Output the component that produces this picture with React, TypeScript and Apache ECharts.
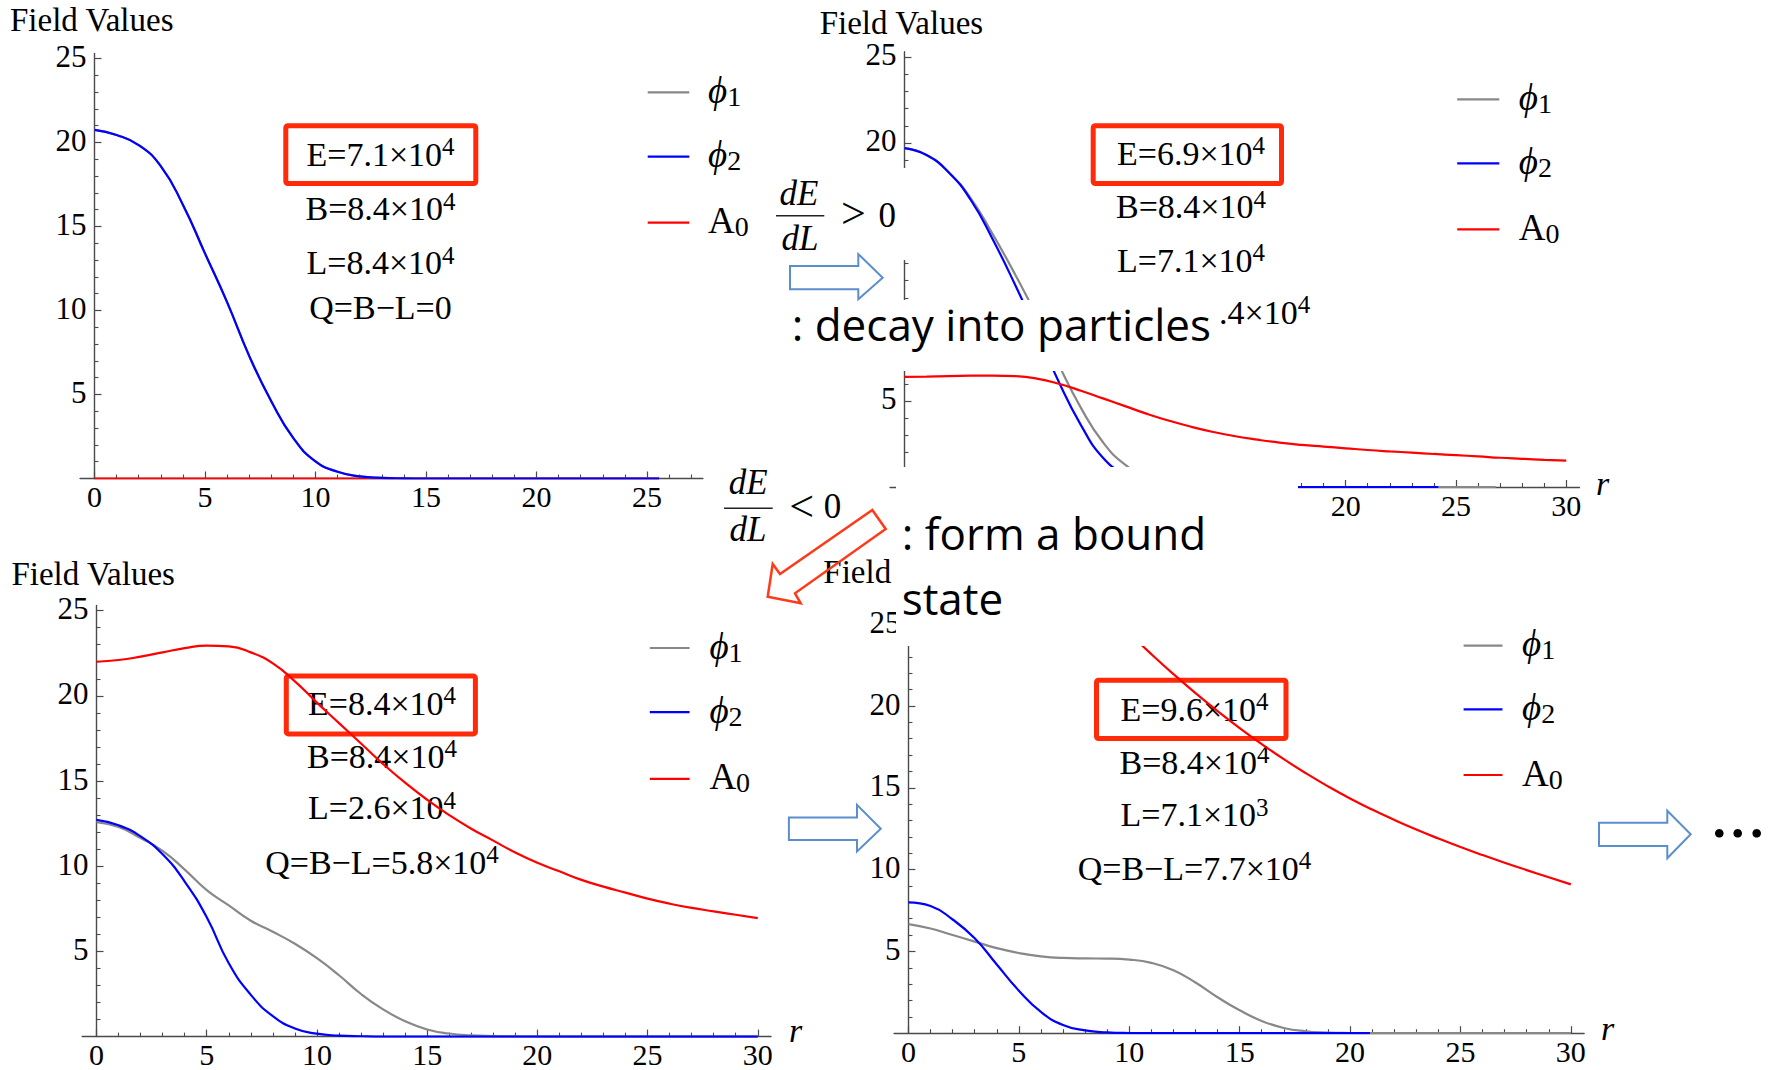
import React, { useEffect, useRef } from "react";
import * as echarts from "echarts";

// ---------------- data ----------------
const xTicks25 = [0, 5, 10, 15, 20, 25];
const xTicks30 = [0, 5, 10, 15, 20, 25, 30];
const yTicks = [5, 10, 15, 20, 25];
const p2XLabels = [20, 25, 30];
const p2YLabels = [5, 20, 25];
const xMinor27 = [1, 2, 3, 4, 6, 7, 8, 9, 11, 12, 13, 14, 16, 17, 18, 19, 21, 22, 23, 24, 26, 27];
const xMinor30 = [1, 2, 3, 4, 6, 7, 8, 9, 11, 12, 13, 14, 16, 17, 18, 19, 21, 22, 23, 24, 26, 27, 28, 29];
const yMinor = [1, 2, 3, 4, 6, 7, 8, 9, 11, 12, 13, 14, 16, 17, 18, 19, 21, 22, 23, 24];

const r0to30 = [0, 1, 2, 3, 4, 5, 6, 7, 8, 9, 10, 11, 12, 13, 14, 15, 16, 17, 18, 19, 20, 21, 22, 23, 24, 25, 26, 27, 28, 29, 30];

// panel 1 (top left)
const p1R = [0, 1, 2, 3, 4, 5, 6, 7, 8, 9, 10, 11, 12, 13, 14, 15, 16, 17, 18, 19, 20, 21, 22, 23, 24, 25, 25.55];
const p1Phi2 = [20.75, 20.45, 19.85, 18.6, 16.3, 13.4, 10.5, 7.3, 4.6, 2.4, 1.02, 0.4, 0.13, 0.04, 0.01, 0, 0, 0, 0, 0, 0, 0, 0, 0, 0, 0, 0];
const p1Phi1 = [20.75, 20.45, 19.85, 18.6, 16.3, 13.4, 10.5, 7.3, 4.6, 2.4, 1.02, 0.4, 0.13, 0.04, 0.01, 0, 0, 0, 0, 0, 0, 0, 0, 0, 0, 0, 0];
const p1A0 = [0, 0, 0, 0, 0, 0, 0, 0, 0, 0, 0, 0, 0, 0, 0, 0, 0, 0, 0, 0, 0, 0, 0, 0, 0, 0, 0];

// panel 2 (top right)
const p2Phi2R = [0, 1, 2, 3, 4, 5, 6, 7, 8, 9, 10, 11, 12, 13, 14, 15, 16, 17, 18, 19, 20, 21, 22, 23, 24, 24.2];
const p2Phi2 = [19.7, 19.3, 18.3, 16.7, 14.4, 11.8, 9.0, 6.1, 3.6, 1.7, 0.75, 0.28, 0.1, 0.03, 0.01, 0, 0, 0, 0, 0, 0, 0, 0, 0, 0, 0];
const p2Phi1R = [0, 1, 2, 3, 4, 5, 6, 7, 8, 9, 10, 11, 12, 13, 14, 15, 16, 17, 18, 19, 20, 21, 22, 23, 24, 25, 26, 26.8];
const p2Phi1 = [19.7, 19.3, 18.3, 16.8, 14.7, 12.4, 9.9, 7.1, 4.6, 2.6, 1.3, 0.6, 0.25, 0.1, 0.04, 0.01, 0, 0, 0, 0, 0, 0, 0, 0, 0, 0, 0, 0];
const p2A0 = [6.4, 6.42, 6.45, 6.47, 6.48, 6.45, 6.3, 6.0, 5.6, 5.15, 4.7, 4.25, 3.85, 3.5, 3.2, 2.95, 2.75, 2.58, 2.45, 2.35, 2.25, 2.15, 2.07, 2.0, 1.92, 1.85, 1.78, 1.7, 1.64, 1.58, 1.53];

// panel 3 (bottom left)
const p3A0 = [22.0, 22.1, 22.3, 22.55, 22.8, 22.95, 22.9, 22.55, 21.9, 20.85, 19.6, 18.4, 17.2, 16.0, 14.9, 13.9, 13.0, 12.2, 11.5, 10.8, 10.2, 9.7, 9.2, 8.8, 8.45, 8.1, 7.8, 7.55, 7.35, 7.15, 6.95];
const p3Phi2 = [12.72, 12.4, 11.75, 10.7, 9.1, 7.0, 4.3, 2.45, 1.2, 0.48, 0.17, 0.06, 0.02, 0, 0, 0, 0, 0, 0, 0, 0, 0, 0, 0, 0, 0, 0, 0, 0, 0, 0];
const p3Phi1 = [12.58, 12.3, 11.65, 10.9, 9.8, 8.6, 7.7, 6.8, 6.15, 5.45, 4.6, 3.6, 2.5, 1.6, 0.9, 0.42, 0.18, 0.07, 0.03, 0.01, 0, 0, 0, 0, 0, 0, 0, 0, 0, 0, 0];

// panel 4 (bottom right)
const p4Phi2R = [0, 1, 2, 3, 4, 5, 6, 7, 8, 9, 10, 11, 12, 13, 14, 15, 16, 17, 18, 19, 20, 20.9];
const p4Phi2 = [8.0, 7.78, 6.95, 5.8, 4.2, 2.6, 1.3, 0.5, 0.17, 0.05, 0.01, 0, 0, 0, 0, 0, 0, 0, 0, 0, 0, 0];
const p4Phi1 = [6.67, 6.4, 6.0, 5.6, 5.2, 4.9, 4.7, 4.6, 4.57, 4.56, 4.5, 4.3, 3.85, 3.1, 2.2, 1.4, 0.75, 0.32, 0.12, 0.04, 0.01, 0, 0, 0, 0, 0, 0, 0, 0, 0, 0];
const p4A0R = [10, 11, 12, 13, 14, 15, 16, 17, 18, 19, 20, 21, 22, 23, 24, 25, 26, 27, 28, 29, 30];
const p4A0 = [24.45, 23.17, 21.95, 20.79, 19.69, 18.65, 17.67, 16.75, 15.89, 15.09, 14.35, 13.67, 13.04, 12.45, 11.9, 11.38, 10.89, 10.42, 9.97, 9.53, 9.1];

// texts
const legendSymbols = ["ϕ", "ϕ", "A"];
const legendSubs = ["1", "2", "0"];
const p1Lines = [["E=7.1×10", "4"], ["B=8.4×10", "4"], ["L=8.4×10", "4"], ["Q=B−L=0", ""]];
const p2Lines = [["E=6.9×10", "4"], ["B=8.4×10", "4"], ["L=7.1×10", "4"]];
const p2Fragment = [".4×10", "4"];
const p3Lines = [["E=8.4×10", "4"], ["B=8.4×10", "4"], ["L=2.6×10", "4"], ["Q=B−L=5.8×10", "4"]];
const p4Lines = [["E=9.6×10", "4"], ["B=8.4×10", "4"], ["L=7.1×10", "3"], ["Q=B−L=7.7×10", "4"]];
const yTitle = "Field Values";
const yTitleCut = "Field";
const xName = "r";
const decayText = ": decay into particles";
const boundText1 = ": form a bound";
const boundText2 = "state";

// ---------------- styles / layout ----------------
const SERIF = "Liberation Serif, Times New Roman, DejaVu Serif, serif";
const SANS = "Open Sans, Noto Sans, DejaVu Sans, sans-serif";
const AX = "#4a4a4a";
const GRAY = "#888888";
const BLUE = "#0000ff";
const RED = "#ff0000";
const BOXRED = "#ff2a0a";
const ARROWBLUE = "#5b8fcb";
const X_MIN = -0.65;
const Y_MAX = 25.3;

const GRIDS = [
  { left: 80.1, top: 53.5, width: 622.8, height: 425, xMax: 27.53, xt: xTicks25, xl: xTicks25, yl: yTicks, xm: xMinor27 },
  { left: 890.1, top: 51.8, width: 689.4, height: 435.2, xMax: 30.6, xt: xTicks30, xl: p2XLabels, yl: p2YLabels, xm: xMinor30 },
  { left: 82.2, top: 605.5, width: 688.8, height: 431.1, xMax: 30.6, xt: xTicks30, xl: xTicks30, yl: yTicks, xm: xMinor30 },
  { left: 894.1, top: 619.3, width: 690, height: 413.9, xMax: 30.6, xt: xTicks30, xl: xTicks30, yl: yTicks, xm: xMinor30 },
];

const SERIES_DEFS = [
  [
    { r: p1R, v: p1A0, c: RED, n: "A0" },
    { r: p1R, v: p1Phi1, c: GRAY, n: "phi1" },
    { r: p1R, v: p1Phi2, c: BLUE, n: "phi2" },
  ],
  [
    { r: p2Phi1R, v: p2Phi1, c: GRAY, n: "phi1" },
    { r: p2Phi2R, v: p2Phi2, c: BLUE, n: "phi2" },
    { r: r0to30, v: p2A0, c: RED, n: "A0" },
  ],
  [
    { r: r0to30, v: p3Phi1, c: GRAY, n: "phi1" },
    { r: r0to30, v: p3Phi2, c: BLUE, n: "phi2" },
    { r: r0to30, v: p3A0, c: RED, n: "A0" },
  ],
  [
    { r: r0to30, v: p4Phi1, c: GRAY, n: "phi1" },
    { r: p4Phi2R, v: p4Phi2, c: BLUE, n: "phi2" },
    { r: p4A0R, v: p4A0, c: RED, n: "A0" },
  ],
];

const LEGENDS = [
  { x1: 647.7, x2: 689.3, ys: [92.3, 156.7, 222.7], tx: 708 },
  { x1: 1457.2, x2: 1499.3, ys: [99.3, 163.3, 229.3], tx: 1518.8 },
  { x1: 649.8, x2: 689.6, ys: [648, 712.2, 778.9], tx: 709.4 },
  { x1: 1463.6, x2: 1502.5, ys: [645.6, 709.4, 775], tx: 1522 },
];
const LEGEND_COLORS = [GRAY, BLUE, RED];

const INFO = [
  { cx: 380.5, ys: [154, 208.7, 262.8, 307.5], lines: p1Lines, box: [285.8, 125.8, 190, 57.7] },
  { cx: 1191, ys: [153.3, 206.7, 260], lines: p2Lines, box: [1093.2, 125.8, 188.3, 57.7] },
  { cx: 382, ys: [703.3, 756, 807.6, 862], lines: p3Lines, box: [286.3, 676.1, 189.1, 57.8] },
  { cx: 1194.5, ys: [709.4, 762, 814.7, 868], lines: p4Lines, box: [1096.5, 680.3, 189.5, 58.2] },
];

function txt(x: number, y: number, text: string, o: any = {}, z = 1) {
  const align = o.align || "left";
  const style: any = {
    text,
    fontFamily: o.fontFamily || SERIF,
    fontSize: o.fontSize || 34,
    fontStyle: o.fontStyle || "normal",
    fill: o.fill || "#000",
    align,
    textAlign: align,
    verticalAlign: "middle",
    textVerticalAlign: "middle",
  };
  if (o.rich) style.rich = o.rich;
  if (o.lineHeight) style.lineHeight = o.lineHeight;
  return { type: "text", x, y, z, silent: true, style };
}

const SUP_RICH = {
  m: { fontFamily: SERIF, fontSize: 34, lineHeight: 40, fill: "#000", color: "#000" },
  s: { fontFamily: SERIF, fontSize: 25, lineHeight: 25, verticalAlign: "top", fill: "#000", color: "#000" },
};

function supText(x: number, y: number, main: string, exp: string, align = "center") {
  const text = exp ? `{m|${main}}{s|${exp}}` : `{m|${main}}`;
  return txt(x, y, text, { align, rich: SUP_RICH }, 1);
}

function arrowRight(L: number, T1: number, B1: number, H: number, T2: number, B2: number, X: number, Y: number) {
  return {
    type: "polygon",
    z: 60,
    silent: true,
    shape: { points: [[L, T1], [H, T1], [H, T2], [X, Y], [H, B2], [H, B1], [L, B1]] },
    style: { fill: "none", stroke: ARROWBLUE, lineWidth: 2 },
  };
}

const X_TICK_RICH = { a: { fontFamily: SERIF, fontSize: 30, lineHeight: 24, color: "#000" } };
const Y_TICK_RICH = { a: { fontFamily: SERIF, fontSize: 31, lineHeight: 24, color: "#000", padding: [0, 0, 4, 0] } };

function buildOption() {
  const grid: any[] = [];
  const xAxis: any[] = [];
  const yAxis: any[] = [];
  const series: any[] = [];
  GRIDS.forEach((g, i) => {
    grid.push({ left: g.left, top: g.top, width: g.width, height: g.height, containLabel: false, outerBoundsMode: "none" });
    // the y axis sits on x = 0, which lies this far right of the grid's left edge
    const zeroShift = (-X_MIN / (g.xMax - X_MIN)) * g.width;
    xAxis.push({
      type: "value", gridIndex: i, min: X_MIN, max: g.xMax, position: "bottom",
      axisLine: { show: true, onZero: true, lineStyle: { color: AX, width: 1.4 } },
      axisTick: { show: true, inside: true, length: 7, customValues: g.xt, lineStyle: { color: AX, width: 1.2 } },
      axisLabel: {
        show: true, customValues: g.xl, margin: 6, formatter: "{a|{value}}", rich: X_TICK_RICH,
        fontFamily: SERIF, fontSize: 30, color: "#000",
      },
      splitLine: { show: false },
    });
    xAxis.push({
      type: "value", gridIndex: i, min: X_MIN, max: g.xMax, position: "bottom",
      axisLine: { show: true, onZero: true, lineStyle: { color: AX, width: 1, opacity: 0 } },
      axisTick: { show: true, inside: true, length: 4, customValues: g.xm, lineStyle: { color: AX, width: 1.1 } },
      axisLabel: { show: false },
      splitLine: { show: false },
    });
    yAxis.push({
      type: "value", gridIndex: i, min: 0, max: Y_MAX, position: "left",
      axisLine: { show: true, onZero: true, lineStyle: { color: AX, width: 1.4 } },
      axisTick: { show: true, inside: true, length: 7, customValues: yTicks, lineStyle: { color: AX, width: 1.2 } },
      axisLabel: {
        show: true, customValues: g.yl, margin: 8 - zeroShift, formatter: "{a|{value}}", rich: Y_TICK_RICH,
        fontFamily: SERIF, fontSize: 31, color: "#000",
      },
      splitLine: { show: false },
    });
    yAxis.push({
      type: "value", gridIndex: i, min: 0, max: Y_MAX, position: "left",
      axisLine: { show: true, onZero: true, lineStyle: { color: AX, width: 1, opacity: 0 } },
      axisTick: { show: true, inside: true, length: 4, customValues: yMinor, lineStyle: { color: AX, width: 1.1 } },
      axisLabel: { show: false },
      splitLine: { show: false },
    });
    SERIES_DEFS[i].forEach((d) => {
      series.push({
        type: "line",
        name: d.n,
        xAxisIndex: 2 * i,
        yAxisIndex: 2 * i,
        data: d.r.map((x, k) => [x, d.v[k]]),
        showSymbol: false,
        symbol: "none",
        smooth: 0.5,
        clip: true,
        silent: true,
        lineStyle: { color: d.c, width: 2.2 },
        itemStyle: { color: d.c },
        z: 2,
      });
    });
  });

  const graphic: any[] = [];
  // y titles
  const TT = { fontSize: 33, lineHeight: 26 };
  graphic.push(txt(10, 19.6, yTitle, TT));
  graphic.push(txt(819.7, 23.2, yTitle, TT));
  graphic.push(txt(11.4, 574, yTitle, TT));
  graphic.push(txt(823.3, 572, yTitleCut, TT));
  // x names
  graphic.push(txt(1596, 483, xName, { fontStyle: "italic" }));
  graphic.push(txt(789, 1030.5, xName, { fontStyle: "italic" }));
  graphic.push(txt(1601, 1028.5, xName, { fontStyle: "italic" }));

  // legends
  LEGENDS.forEach((lg) => {
    lg.ys.forEach((y, k) => {
      graphic.push({
        type: "line", z: 1, silent: true,
        shape: { x1: lg.x1, y1: y, x2: lg.x2, y2: y },
        style: { stroke: LEGEND_COLORS[k], lineWidth: 2.2 },
      });
      graphic.push(
        txt(lg.tx, y - 2, `{i|${legendSymbols[k]}}{s|${legendSubs[k]}}`, {
          rich: {
            i: { fontFamily: SERIF, fontSize: 37, fontStyle: k < 2 ? "italic" : "normal", lineHeight: 40, fill: "#000", color: "#000" },
            s: { fontFamily: SERIF, fontSize: 28, lineHeight: 28, verticalAlign: "bottom", fill: "#000", color: "#000" },
          },
        })
      );
    });
  });

  // info blocks
  INFO.forEach((b) => {
    graphic.push({
      type: "rect", z: 1, silent: true,
      shape: { x: b.box[0], y: b.box[1], width: b.box[2], height: b.box[3], r: 2 },
      style: { fill: "none", stroke: BOXRED, lineWidth: 5 },
    });
    b.lines.forEach((ln, k) => graphic.push(supText(b.cx, b.ys[k], ln[0], ln[1])));
  });
  graphic.push(supText(1219, 312, p2Fragment[0], p2Fragment[1], "left"));

  // white covers (slide overlays)
  const cover = (x: number, y: number, w: number, h: number) => ({
    type: "rect", z: 50, silent: true, shape: { x, y, width: w, height: h }, style: { fill: "#ffffff", stroke: "none" },
  });
  graphic.push(cover(770, 168, 142, 92));
  graphic.push(cover(770, 300, 446, 71));
  graphic.push(cover(896, 467, 402, 179));

  // fractions
  const S = { fontFamily: SERIF, fontSize: 35 };
  graphic.push(txt(799, 193.5, "dE", { ...S, fontStyle: "italic", align: "center" }, 60));
  graphic.push({ type: "line", z: 60, silent: true, shape: { x1: 776, y1: 215.7, x2: 824.3, y2: 215.7 }, style: { stroke: "#222", lineWidth: 1.5 } });
  graphic.push(txt(800, 238, "dL", { ...S, fontStyle: "italic", align: "center" }, 60));
  graphic.push(txt(853.3, 213, ">", { fontFamily: SERIF, fontSize: 44, align: "center" }, 60));
  graphic.push(txt(887.3, 215.5, "0", { ...S, align: "center" }, 60));

  graphic.push(txt(748.3, 482.5, "dE", { ...S, fontStyle: "italic", align: "center" }, 60));
  graphic.push({ type: "line", z: 60, silent: true, shape: { x1: 724, y1: 508.3, x2: 772.7, y2: 508.3 }, style: { stroke: "#222", lineWidth: 1.5 } });
  graphic.push(txt(748, 529, "dL", { ...S, fontStyle: "italic", align: "center" }, 60));
  graphic.push(txt(801.7, 506, "<", { fontFamily: SERIF, fontSize: 44, align: "center" }, 60));
  graphic.push(txt(832.5, 506.7, "0", { ...S, align: "center" }, 60));

  // slide texts
  graphic.push(txt(791.7, 324, decayText, { fontFamily: SANS, fontSize: 44 }, 60));
  graphic.push(txt(901.7, 533, boundText1, { fontFamily: SANS, fontSize: 44 }, 60));
  graphic.push(txt(901.7, 598, boundText2, { fontFamily: SANS, fontSize: 44 }, 60));

  // arrows
  graphic.push(arrowRight(790, 266, 289.3, 858.3, 254, 299.3, 882.7, 277.7));
  graphic.push(arrowRight(788.9, 817.4, 839.9, 857, 804.8, 851.5, 880.8, 828.7));
  graphic.push(arrowRight(1599, 822.7, 846, 1667.3, 810.7, 858.3, 1690.7, 834.3));
  graphic.push({
    type: "polygon", z: 60, silent: true,
    shape: { points: [[872.3, 510], [780, 574], [772.7, 564], [767.7, 596.7], [800.7, 603.3], [795, 593.3], [885.7, 529]] },
    style: { fill: "none", stroke: "#ff3a1a", lineWidth: 2.5 },
  });
  [1719.3, 1737.7, 1756.7].forEach((cx) =>
    graphic.push({ type: "circle", z: 60, silent: true, shape: { cx, cy: 833.3, r: 4.3 }, style: { fill: "#000" } })
  );

  return {
    animation: false,
    backgroundColor: "#ffffff",
    textStyle: { fontFamily: SERIF },
    grid,
    xAxis,
    yAxis,
    series,
    graphic,
  };
}

export default function App() {
  const ref = useRef<HTMLDivElement>(null);
  useEffect(() => {
    if (!ref.current) return;
    const chart = echarts.init(ref.current, null, { renderer: "svg" });
    chart.setOption(buildOption() as any);
    return () => chart.dispose();
  }, []);
  return (
    <div
      ref={ref}
      style={{ position: "fixed", left: 0, top: 0, width: 1777, height: 1070, background: "#fff" }}
    />
  );
}
